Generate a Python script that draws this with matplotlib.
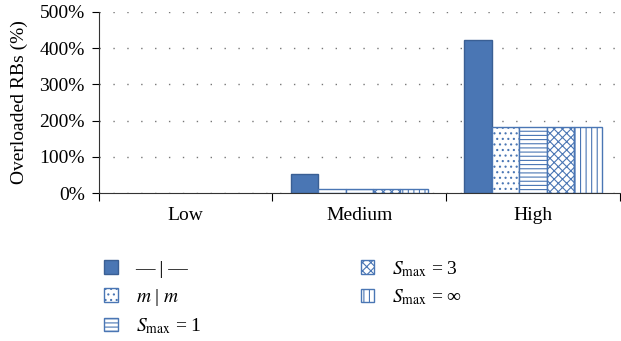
import matplotlib.pyplot as plt
import numpy as np

plt.rcParams['font.family'] = ['Liberation Serif', 'DejaVu Serif']
plt.rcParams['mathtext.fontset'] = 'stix'
plt.rcParams['hatch.linewidth'] = 0.8

categories = ['Low', 'Medium', 'High']
series = ['— | —', '$m$ | $m$', '$S_{\\mathrm{max}}$ = 1', '$S_{\\mathrm{max}}$ = 3', '$S_{\\mathrm{max}}$ = ∞']
values = [
    [0, 52, 422],
    [0, 10, 182],
    [0, 10, 182],
    [0, 10, 182],
    [0, 10, 182],
]
hatches = [None, '...', '----', 'xxxx', '|||']

blue = '#4a76b4'


def main():
    fig = plt.figure(figsize=(6.21, 3.41), dpi=100)
    ax = fig.add_axes([0.159, 0.434, 0.839, 0.531])

    x = np.arange(len(categories))
    w = 0.158
    for i, name in enumerate(series):
        pos = x + (i - 2) * w
        lw = [0 if v == 0 else 1.0 for v in values[i]]
        if hatches[i] is None:
            ax.bar(pos, values[i], w, color=blue, edgecolor='#3a5f94', linewidth=lw, label=name)
        else:
            ax.bar(pos, values[i], w, facecolor='white', edgecolor=blue, hatch=hatches[i],
                   linewidth=lw, label=name)

    ax.set_xlim(-0.5, 2.5)
    ax.set_ylim(0, 500)
    ax.set_yticks(range(0, 501, 100))
    ax.set_yticklabels([f'{v}%' for v in range(0, 501, 100)], fontsize=14)
    ax.set_xticks([-0.5, 0.5, 1.5, 2.5])
    ax.set_xticklabels([])
    ax.set_xticks(x, minor=True)
    ax.set_xticklabels(categories, minor=True, fontsize=14)
    ax.tick_params(axis='x', which='minor', length=0, pad=10)
    ax.tick_params(axis='x', which='major', length=6, direction='out')
    ax.tick_params(axis='y', length=5, direction='out', pad=5)
    ax.set_ylabel('Overloaded RBs (%)', fontsize=14, labelpad=8)
    ax.yaxis.grid(True, linestyle=(0, (1, 9)), color='#777777', linewidth=1)
    ax.set_axisbelow(True)
    for s in ['top', 'right']:
        ax.spines[s].set_visible(False)
    ax.spines['left'].set_color('#333333')
    ax.spines['bottom'].set_color('#333333')

    handles, labels = ax.get_legend_handles_labels()
    leg = fig.legend(handles, labels, loc='upper left', bbox_to_anchor=(0.14, 0.292),
                     ncol=2, frameon=False, fontsize=14, handlelength=0.7, handleheight=0.7,
                     columnspacing=8.2, labelspacing=0.45, handletextpad=0.9)
    for h in leg.legend_handles:
        h.set_linewidth(1.0)

    plt.savefig('out.png', dpi=100)


if __name__ == "__main__":
    main()
